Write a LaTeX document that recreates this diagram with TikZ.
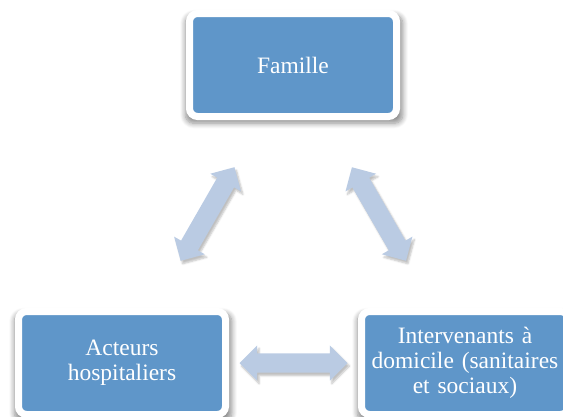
\documentclass[tikz,border=0pt]{standalone}
\usepackage{fontspec}
\setmainfont{Liberation Serif}
\usetikzlibrary{shapes.arrows,shadows.blur}
\definecolor{boxblue}{RGB}{95,150,201}
\definecolor{arrowblue}{RGB}{186,203,227}
\tikzset{
    bloc/.style={draw=white, line width=7pt, fill=boxblue, rounded corners=8pt,
        minimum width=207pt, minimum height=103pt, inner sep=2pt,
        text width=195pt, align=center, text=white,
        font=\fontsize{23.5}{25}\selectfont,
        blur shadow={shadow xshift=1pt, shadow yshift=-4pt, shadow scale=1.05,
            shadow blur radius=5pt, shadow blur steps=8, shadow opacity=45}},
    fleche/.style={double arrow, fill=arrowblue, minimum height=108pt,
        inner xsep=0pt, inner ysep=9.5pt, double arrow head extend=8pt, sloped,
        blur shadow={shadow xshift=2pt, shadow yshift=-3pt, shadow blur steps=5, shadow opacity=25}}
}
\begin{document}
\begin{tikzpicture}[x=1pt,y=-1pt]
    \useasboundingbox (0,0) rectangle (563,416);
    \node[bloc] (fam)  at (293,65)  {Famille};
    \node[bloc] (hosp) at (122,363) {Acteurs\\hospitaliers};
    \node[bloc] (dom)  at (465,363) {Intervenants à\\domicile (sanitaires\\et sociaux)};
    \path (hosp) -- node[fleche] (hf) {} (fam);
    \path (dom)  -- node[fleche] (df) {} (fam);
    \path (hosp) -- node[fleche] (hd) {} (dom);
\end{tikzpicture}
\end{document}
